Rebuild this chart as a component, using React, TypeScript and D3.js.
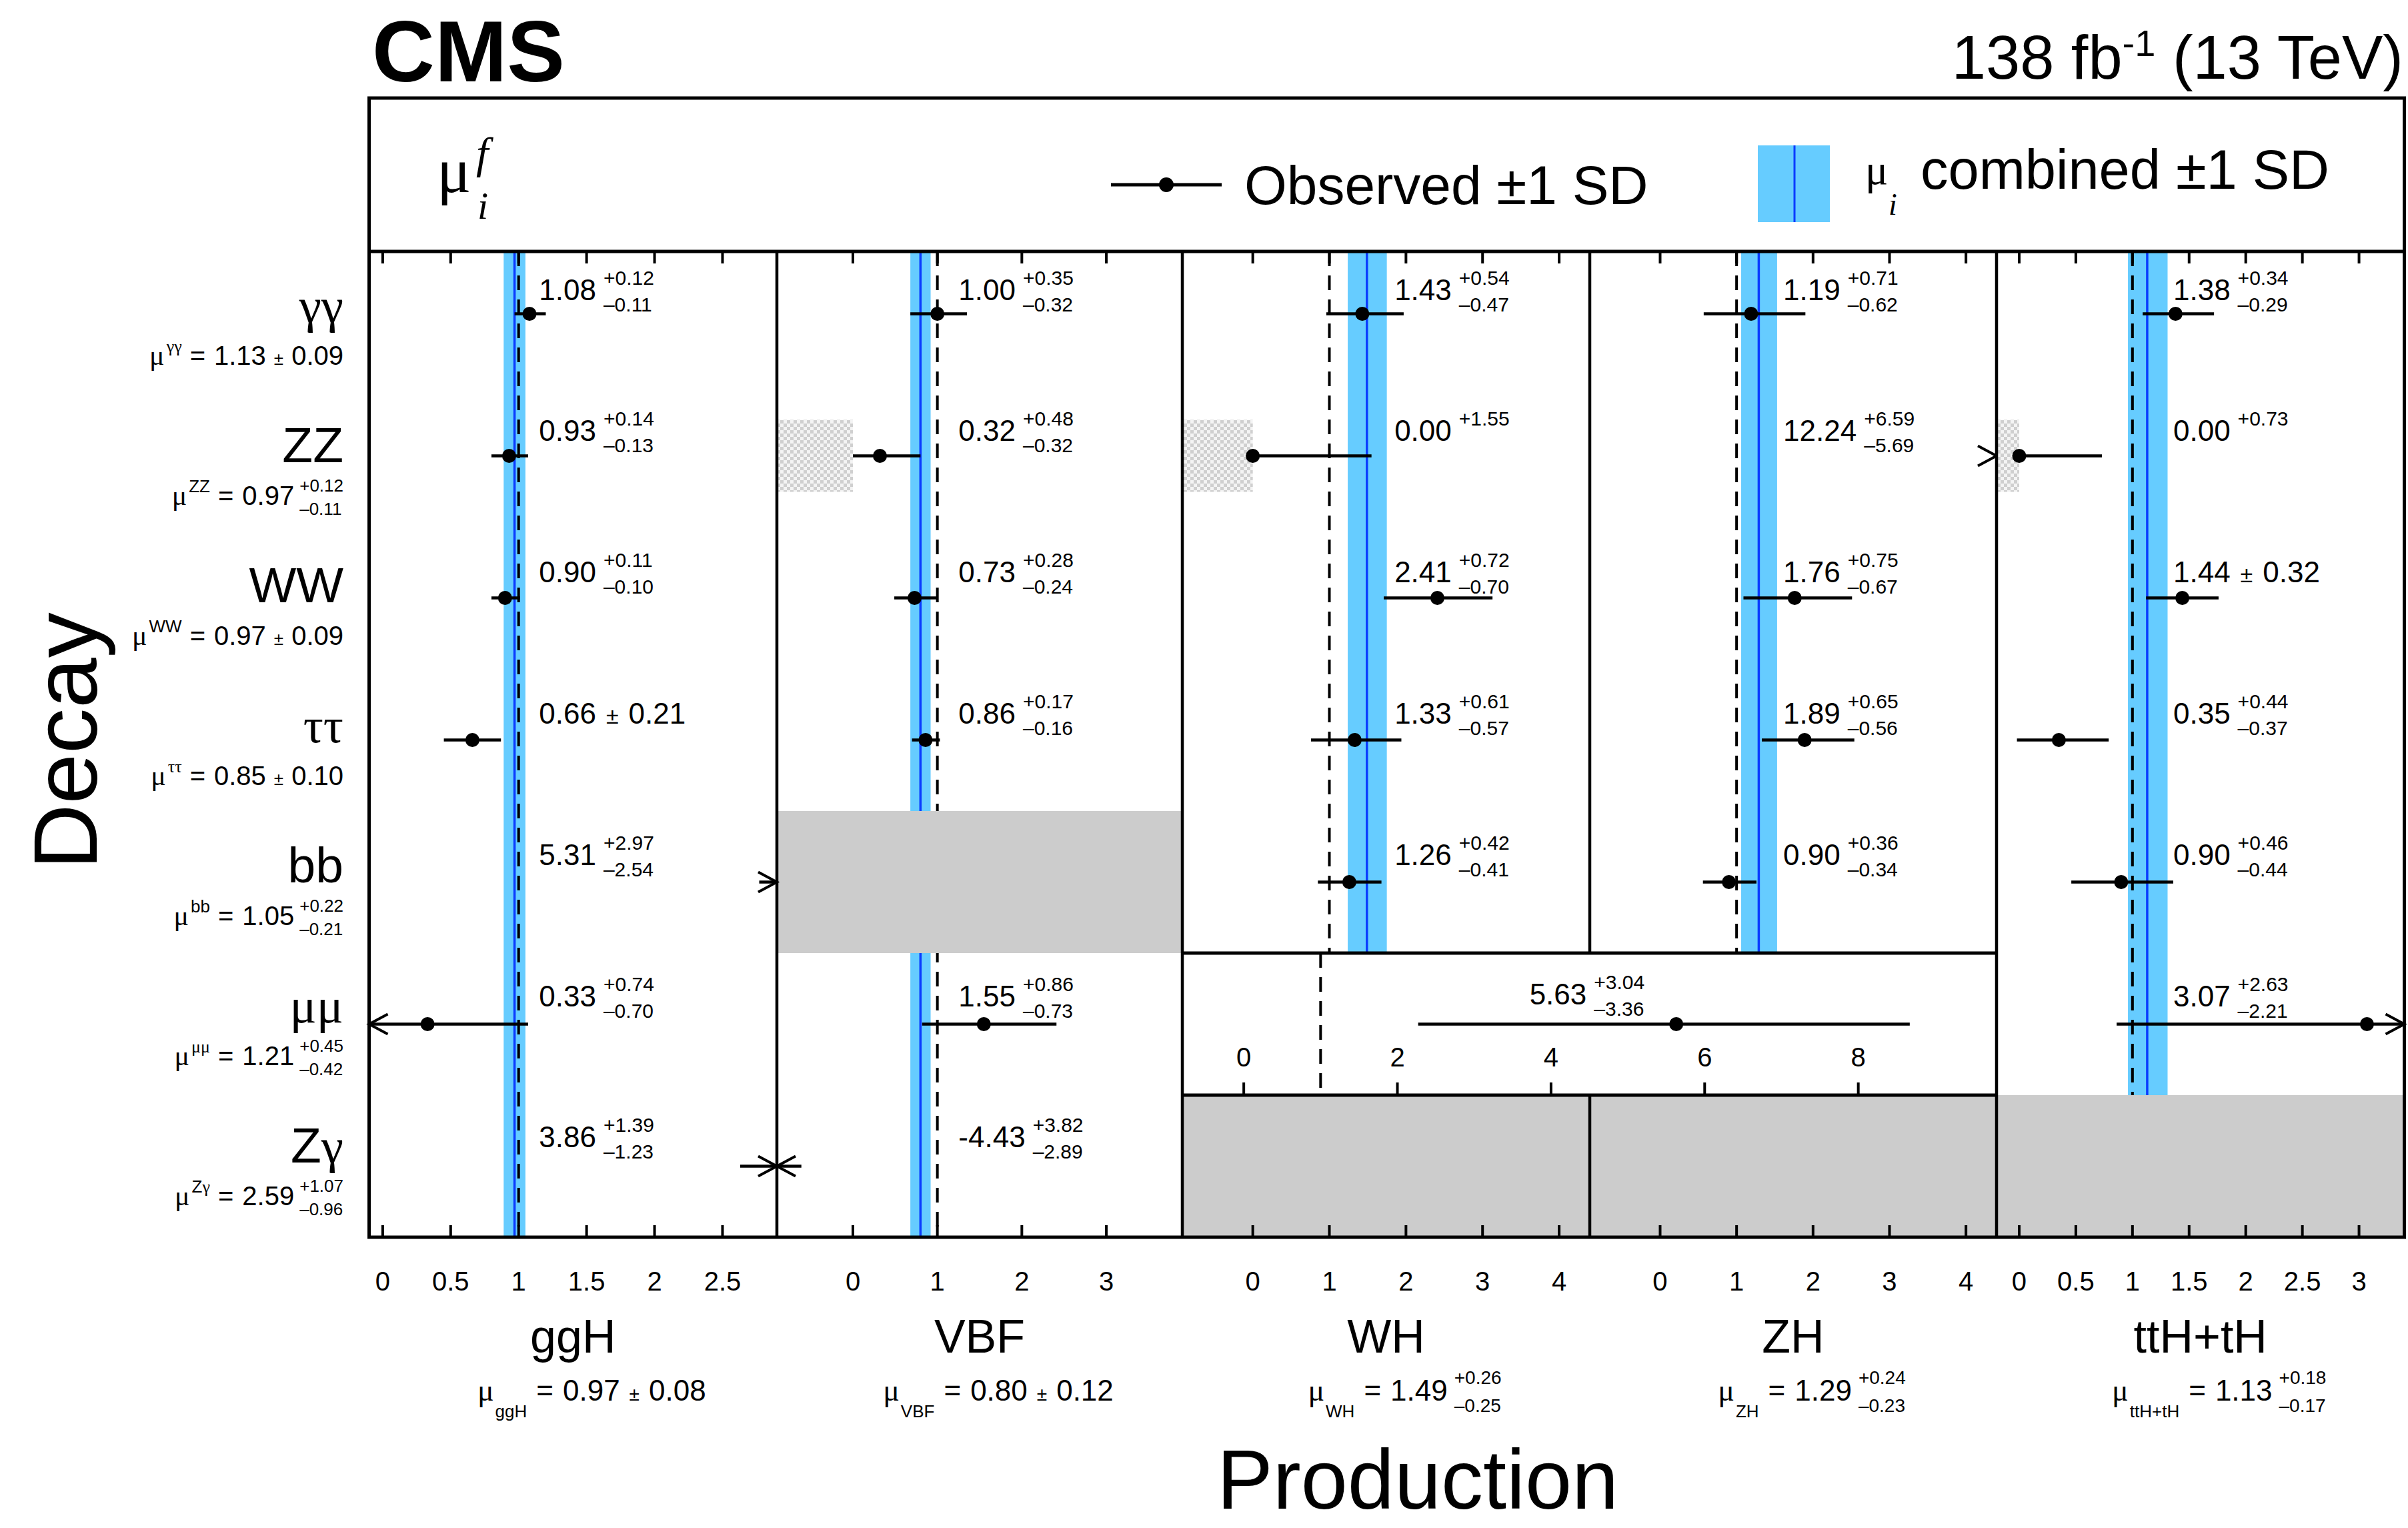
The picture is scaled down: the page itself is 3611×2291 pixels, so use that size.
import { useRef, useEffect } from "react";
import * as d3 from "d3";

const decays = ["γγ", "ZZ", "WW", "ττ", "bb", "μμ", "Zγ"];
const productions = ["ggH", "VBF", "WH", "ZH", "ttH+tH"];

// observed signal strengths, in decay order (null = not measured / shown in merged cell)
const ggHObs = [1.08, 0.93, 0.9, 0.66, 5.31, 0.33, 3.86];
const ggHUp = [0.12, 0.14, 0.11, 0.21, 2.97, 0.74, 1.39];
const ggHDown = [0.11, 0.13, 0.1, 0.21, 2.54, 0.7, 1.23];

const vbfObs = [1.0, 0.32, 0.73, 0.86, null, 1.55, -4.43];
const vbfUp = [0.35, 0.48, 0.28, 0.17, null, 0.86, 3.82];
const vbfDown = [0.32, 0.32, 0.24, 0.16, null, 0.73, 2.89];

const whObs = [1.43, 0.0, 2.41, 1.33, 1.26, null, null];
const whUp = [0.54, 1.55, 0.72, 0.61, 0.42, null, null];
const whDown = [0.47, 0, 0.7, 0.57, 0.41, null, null];

const zhObs = [1.19, 12.24, 1.76, 1.89, 0.9, null, null];
const zhUp = [0.71, 6.59, 0.75, 0.65, 0.36, null, null];
const zhDown = [0.62, 5.69, 0.67, 0.56, 0.34, null, null];

const tthObs = [1.38, 0.0, 1.44, 0.35, 0.9, 3.07, null];
const tthUp = [0.34, 0.73, 0.32, 0.44, 0.46, 2.63, null];
const tthDown = [0.29, 0, 0.32, 0.37, 0.44, 2.21, null];

// WH+ZH combined in the mumu row: value, +err, -err
const vhMumu = [5.63, 3.04, 3.36];

// combined per production mode
const prodMu = [0.97, 0.8, 1.49, 1.29, 1.13];
const prodUp = [0.08, 0.12, 0.26, 0.24, 0.18];
const prodDown = [0.08, 0.12, 0.25, 0.23, 0.17];

// combined per decay mode
const decayMu = [1.13, 0.97, 0.97, 0.85, 1.05, 1.21, 2.59];
const decayUp = [0.09, 0.12, 0.09, 0.1, 0.22, 0.45, 1.07];
const decayDown = [0.09, 0.11, 0.09, 0.1, 0.21, 0.42, 0.96];

// axes
const axisDomains = [[-0.1, 2.9], [-0.9, 3.9], [-0.92, 4.4], [-0.92, 4.4], [-0.2, 3.4]];
const axisTicks = [
    [0, 0.5, 1, 1.5, 2, 2.5],
    [0, 1, 2, 3],
    [0, 1, 2, 3, 4],
    [0, 1, 2, 3, 4],
    [0, 0.5, 1, 1.5, 2, 2.5, 3],
];
const vhDomain = [-0.8, 9.8];
const vhTicks = [0, 2, 4, 6, 8];

const obsByProd = [ggHObs, vbfObs, whObs, zhObs, tthObs];
const upByProd = [ggHUp, vbfUp, whUp, zhUp, tthUp];
const downByProd = [ggHDown, vbfDown, whDown, zhDown, tthDown];

// layout
const W = 3611;
const H = 2291;
const colEdges = [553.5, 1165, 1773, 2384, 2994, 3605.5];
const headerTop = 147;
const plotTop = 377;
const bottom = 1855;
const labelAt = [1.15, 1.25, 1.85, 1.61, 1.36]; // where the value text starts (axis units)
const vhLabelAt = 3.72;

const SANS = "'Liberation Sans', Arial, Helvetica, sans-serif";
const SERIF = "'Liberation Serif', 'Times New Roman', serif";
const BAND = "#66ccff";
const BLUE = "#0a3cff";
const GRAY = "#cccccc";

const fmt = (v: number) => v.toFixed(2);
const isGreek = (c: string) => /[\u0370-\u03ff]/.test(c);
const textWidth = (sel: any) => (sel.node() as SVGTextElement).getComputedTextLength();

function mixedText(sel: any, str: string) {
    for (const ch of str) {
        sel.append("tspan").attr("font-family", isGreek(ch) ? SERIF : SANS).text(ch);
    }
}

interface MeasureStyle {
    main: number;
    small: number;
    pm: number;
    supDy: number;
    subDy: number;
    gap: number;
}

function drawMeasure(g: any, x: number, y: number, v: number, up: number, dn: number, st: MeasureStyle) {
    const t = g.append("text").attr("x", x).attr("y", y).attr("font-size", st.main).text(fmt(v));
    let cx = x + textWidth(t) + st.gap;
    if (Math.abs(up - dn) < 1e-9) {
        cx += 4;
        const pm = g.append("text").attr("x", cx).attr("y", y).attr("font-size", st.pm).text("±");
        cx += textWidth(pm) + st.gap + 4;
        g.append("text").attr("x", cx).attr("y", y).attr("font-size", st.main).text(fmt(up));
        return;
    }
    g.append("text").attr("x", cx).attr("y", y + st.supDy).attr("font-size", st.small).text("+" + fmt(up));
    if (dn > 0) {
        g.append("text").attr("x", cx).attr("y", y + st.subDy).attr("font-size", st.small).text("–" + fmt(dn));
    }
}

const cellStyle: MeasureStyle = { main: 44, small: 30, pm: 34, supDy: -23, subDy: 17, gap: 11 };
const decayStyle: MeasureStyle = { main: 40, small: 26, pm: 26, supDy: -20, subDy: 15, gap: 8 };
const prodStyle: MeasureStyle = { main: 44, small: 28, pm: 28, supDy: -25, subDy: 17, gap: 10 };

const App: React.FC = () => {
    const svgRef = useRef(null);

    useEffect(() => {
        const svg = d3.select(svgRef.current);
        svg.selectAll("*").remove();
        svg.attr("font-family", SANS).attr("fill", "black");

        // hatched pattern for the physical boundary mu >= 0
        const defs = svg.append("defs");
        const pat = defs.append("pattern").attr("id", "hatch")
            .attr("patternUnits", "userSpaceOnUse").attr("width", 10).attr("height", 10);
        pat.append("rect").attr("width", 10).attr("height", 10).attr("fill", "#f4f4f4");
        pat.append("rect").attr("width", 5).attr("height", 5).attr("fill", "#cfcfcf");
        pat.append("rect").attr("x", 5).attr("y", 5).attr("width", 5).attr("height", 5).attr("fill", "#cfcfcf");

        const yRow = d3.scaleBand<string>().domain(decays).range([364, bottom]);
        const rh = yRow.bandwidth();
        const cy = (k: number) => (yRow(decays[k]) ?? 0) + rh / 2;

        const xs = productions.map((_, i) =>
            d3.scaleLinear().domain(axisDomains[i]).range([colEdges[i], colEdges[i + 1]])
        );
        const vhX = d3.scaleLinear().domain(vhDomain).range([colEdges[2], colEdges[4]]);
        const mumuK = decays.indexOf("μμ");
        const merged = (i: number, k: number) => k === mumuK && (i === 2 || i === 3);

        const plot = svg.append("g");

        // combined bands, centre lines and SM reference
        productions.forEach((_, i) => {
            const x = xs[i];
            plot.append("rect")
                .attr("x", x(prodMu[i] - prodDown[i]))
                .attr("y", plotTop)
                .attr("width", x(prodMu[i] + prodUp[i]) - x(prodMu[i] - prodDown[i]))
                .attr("height", bottom - plotTop)
                .attr("fill", BAND);
            plot.append("line")
                .attr("x1", x(prodMu[i])).attr("x2", x(prodMu[i]))
                .attr("y1", plotTop).attr("y2", bottom)
                .attr("stroke", BLUE).attr("stroke-width", 3.5);
            plot.append("line")
                .attr("x1", x(1)).attr("x2", x(1))
                .attr("y1", plotTop).attr("y2", bottom)
                .attr("stroke", "black").attr("stroke-width", 4)
                .attr("stroke-dasharray", "22 14");
        });

        // cells without a measurement
        productions.forEach((_, i) => {
            decays.forEach((_, k) => {
                if (obsByProd[i][k] === null && !merged(i, k)) {
                    plot.append("rect")
                        .attr("x", colEdges[i]).attr("y", yRow(decays[k]))
                        .attr("width", colEdges[i + 1] - colEdges[i]).attr("height", rh)
                        .attr("fill", GRAY);
                }
            });
        });

        // merged WH+ZH mumu cell
        const my0 = yRow(decays[mumuK]) ?? 0;
        plot.append("rect")
            .attr("x", colEdges[2]).attr("y", my0)
            .attr("width", colEdges[4] - colEdges[2]).attr("height", rh)
            .attr("fill", "white");
        plot.append("line")
            .attr("x1", vhX(1)).attr("x2", vhX(1))
            .attr("y1", my0).attr("y2", my0 + rh)
            .attr("stroke", "black").attr("stroke-width", 4)
            .attr("stroke-dasharray", "22 14");

        const drawObs = (x: any, dom: number[], yc: number, v: number, up: number, dn: number) => {
            const lo = v - dn;
            const hi = v + up;
            if (Math.abs(lo) < 1e-9) {
                plot.append("rect")
                    .attr("x", x(dom[0])).attr("y", yc - 54)
                    .attr("width", x(0) - x(dom[0])).attr("height", 108)
                    .attr("fill", "url(#hatch)");
            }
            const a = Math.max(lo, dom[0]);
            const b = Math.min(hi, dom[1]);
            if (a < b) {
                plot.append("line")
                    .attr("x1", x(a)).attr("x2", x(b))
                    .attr("y1", yc).attr("y2", yc)
                    .attr("stroke", "black").attr("stroke-width", 4.5);
            }
            const arrow = (tip: number, dir: number) => {
                plot.append("path")
                    .attr("d", `M${tip - dir * 28},${yc - 15}L${tip},${yc}L${tip - dir * 28},${yc + 15}`)
                    .attr("fill", "none").attr("stroke", "black").attr("stroke-width", 4);
            };
            if (lo < dom[0]) arrow(x(dom[0]), -1);
            if (hi > dom[1]) arrow(x(dom[1]), 1);
            if (v >= dom[0] && v <= dom[1]) {
                plot.append("circle").attr("cx", x(v)).attr("cy", yc).attr("r", 10.5).attr("fill", "black");
            }
        };

        productions.forEach((_, i) => {
            decays.forEach((_, k) => {
                const v = obsByProd[i][k];
                if (v === null) return;
                const up = upByProd[i][k] as number;
                const dn = downByProd[i][k] as number;
                drawObs(xs[i], axisDomains[i], cy(k), v, up, dn);
                drawMeasure(plot, xs[i](labelAt[i]), cy(k) - 21 - 1.2 * k, v, up, dn, cellStyle);
            });
        });

        drawObs(vhX, vhDomain, cy(mumuK), vhMumu[0], vhMumu[1], vhMumu[2]);
        drawMeasure(plot, vhX(vhLabelAt), cy(mumuK) - 30, vhMumu[0], vhMumu[1], vhMumu[2], cellStyle);

        // merged cell axis
        vhTicks.forEach(t => {
            plot.append("line")
                .attr("x1", vhX(t)).attr("x2", vhX(t))
                .attr("y1", my0 + rh).attr("y2", my0 + rh - 19)
                .attr("stroke", "black").attr("stroke-width", 4);
            plot.append("text")
                .attr("x", vhX(t)).attr("y", my0 + rh - 43)
                .attr("text-anchor", "middle").attr("font-size", 40).text(String(t));
        });

        // frame
        const frame = svg.append("g").attr("stroke", "black").attr("fill", "none");
        frame.append("rect")
            .attr("x", colEdges[0]).attr("y", headerTop)
            .attr("width", colEdges[5] - colEdges[0]).attr("height", bottom - headerTop)
            .attr("stroke-width", 5);
        frame.append("line")
            .attr("x1", colEdges[0]).attr("x2", colEdges[5])
            .attr("y1", plotTop).attr("y2", plotTop).attr("stroke-width", 5);
        [1, 2, 4].forEach(j => {
            frame.append("line")
                .attr("x1", colEdges[j]).attr("x2", colEdges[j])
                .attr("y1", plotTop).attr("y2", bottom).attr("stroke-width", 4.5);
        });
        frame.append("line")
            .attr("x1", colEdges[3]).attr("x2", colEdges[3])
            .attr("y1", plotTop).attr("y2", my0).attr("stroke-width", 4.5);
        frame.append("line")
            .attr("x1", colEdges[3]).attr("x2", colEdges[3])
            .attr("y1", my0 + rh).attr("y2", bottom).attr("stroke-width", 4.5);
        [my0, my0 + rh].forEach(yy => {
            frame.append("line")
                .attr("x1", colEdges[2]).attr("x2", colEdges[4])
                .attr("y1", yy).attr("y2", yy).attr("stroke-width", 5);
        });

        // ticks and tick labels
        productions.forEach((_, i) => {
            axisTicks[i].forEach(t => {
                const tx = xs[i](t);
                frame.append("line").attr("x1", tx).attr("x2", tx)
                    .attr("y1", plotTop).attr("y2", plotTop + 18).attr("stroke-width", 4);
                frame.append("line").attr("x1", tx).attr("x2", tx)
                    .attr("y1", bottom).attr("y2", bottom - 18).attr("stroke-width", 4);
                svg.append("text").attr("x", tx).attr("y", 1935)
                    .attr("text-anchor", "middle").attr("font-size", 40).text(String(t));
            });
        });

        // production labels and combined values
        productions.forEach((p, i) => {
            const cx = (colEdges[i] + colEdges[i + 1]) / 2;
            svg.append("text").attr("x", cx).attr("y", 2028)
                .attr("text-anchor", "middle").attr("font-size", 70).text(p);
            const g = svg.append("g");
            const mu = g.append("text").attr("x", 0).attr("y", 2100)
                .attr("font-family", SERIF).attr("font-size", 46).text("μ");
            let cur = textWidth(mu) + 2;
            const sub = g.append("text").attr("x", cur).attr("y", 2125).attr("font-size", 26).text(p);
            cur += textWidth(sub) + 14;
            const eq = g.append("text").attr("x", cur).attr("y", 2100).attr("font-size", 44).text("=");
            cur += textWidth(eq) + 14;
            drawMeasure(g, cur, 2100, prodMu[i], prodUp[i], prodDown[i], prodStyle);
            const bb = (g.node() as SVGGElement).getBBox();
            g.attr("transform", `translate(${cx + 28 - (bb.x + bb.width / 2)},0)`);
        });

        // decay labels and combined values
        decays.forEach((d, k) => {
            const base = cy(k) + 12 - 3 * k;
            const big = svg.append("text").attr("x", 515).attr("y", base)
                .attr("text-anchor", "end").attr("font-size", 75);
            mixedText(big, d);

            const sb = cy(k) + 76 - 3 * k;
            const g = svg.append("g");
            const mu = g.append("text").attr("x", 0).attr("y", sb)
                .attr("font-family", SERIF).attr("font-size", 42).text("μ");
            let cur = textWidth(mu) + 3;
            const sup = g.append("text").attr("x", cur).attr("y", sb - 19).attr("font-size", 26);
            mixedText(sup, d);
            cur += textWidth(sup) + 12;
            const eq = g.append("text").attr("x", cur).attr("y", sb).attr("font-size", 40).text("=");
            cur += textWidth(eq) + 13;
            drawMeasure(g, cur, sb, decayMu[k], decayUp[k], decayDown[k], decayStyle);
            const bb = (g.node() as SVGGElement).getBBox();
            g.attr("transform", `translate(${515 - (bb.x + bb.width)},0)`);
        });

        // axis titles
        svg.append("text").attr("x", 2126).attr("y", 2262)
            .attr("text-anchor", "middle").attr("font-size", 126).text("Production");
        svg.append("text")
            .attr("transform", "translate(145,1111) rotate(-90)")
            .attr("text-anchor", "middle").attr("font-size", 136).text("Decay");

        // top labels
        svg.append("text").attr("x", 558).attr("y", 122)
            .attr("font-size", 130).attr("font-weight", "bold").text("CMS");
        const lumi = svg.append("text").attr("x", 3604).attr("y", 118)
            .attr("text-anchor", "end").attr("font-size", 92);
        lumi.append("tspan").text("138 fb");
        lumi.append("tspan").attr("dy", -34).attr("font-size", 56).text("-1");
        lumi.append("tspan").attr("dy", 34).text(" (13 TeV)");

        // header: mu_i^f and legend
        svg.append("text").attr("x", 655).attr("y", 288)
            .attr("font-family", SERIF).attr("font-size", 96).text("μ");
        svg.append("text").attr("x", 714).attr("y", 252)
            .attr("font-family", SERIF).attr("font-style", "italic").attr("font-size", 66).text("f");
        svg.append("text").attr("x", 716).attr("y", 328)
            .attr("font-family", SERIF).attr("font-style", "italic").attr("font-size", 58).text("i");

        svg.append("line").attr("x1", 1666).attr("x2", 1832).attr("y1", 277).attr("y2", 277)
            .attr("stroke", "black").attr("stroke-width", 5);
        svg.append("circle").attr("cx", 1749).attr("cy", 277).attr("r", 11).attr("fill", "black");
        svg.append("text").attr("x", 1866).attr("y", 306).attr("font-size", 82).text("Observed ±1 SD");

        svg.append("rect").attr("x", 2636).attr("y", 218).attr("width", 108).attr("height", 115).attr("fill", BAND);
        svg.append("line").attr("x1", 2691).attr("x2", 2691).attr("y1", 218).attr("y2", 333)
            .attr("stroke", BLUE).attr("stroke-width", 3);
        svg.append("text").attr("x", 2797).attr("y", 276)
            .attr("font-family", SERIF).attr("font-size", 64).text("μ");
        svg.append("text").attr("x", 2832).attr("y", 322)
            .attr("font-family", SERIF).attr("font-style", "italic").attr("font-size", 46).text("i");
        svg.append("text").attr("x", 2880).attr("y", 283).attr("font-size", 83).text("combined ±1 SD");
    }, []);

    return (
        <svg
            ref={svgRef}
            width={W}
            height={H}
            style={{ position: "absolute", left: 0, top: 0, background: "white" }}
        ></svg>
    );
};

export default App;
